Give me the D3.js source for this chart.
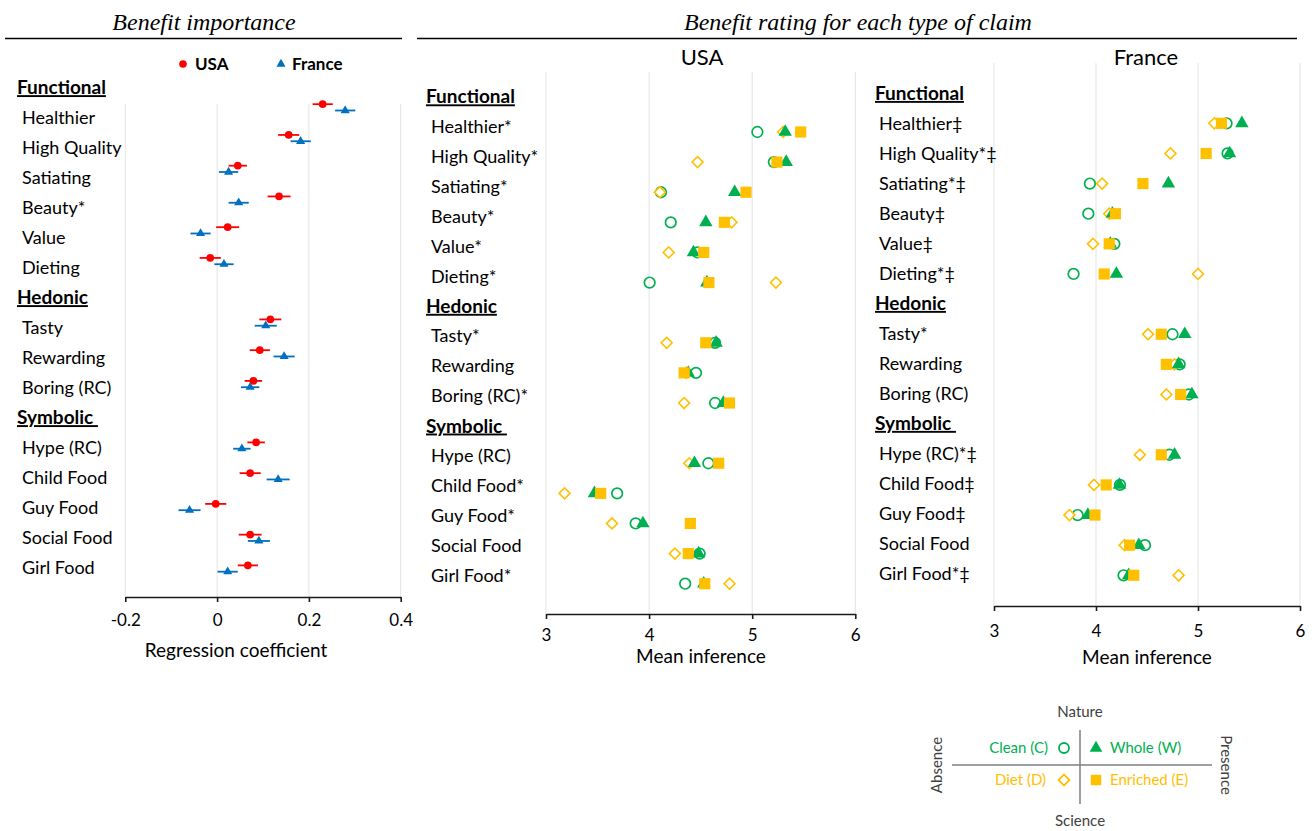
<!DOCTYPE html>
<html><head><meta charset="utf-8">
<script src="https://cdn.jsdelivr.net/npm/d3@7"></script>
<style>
body{margin:0;background:#fff;}
svg{display:block;}
text{font-family:Lato,"Noto Sans",sans-serif;}
</style></head>
<body>
<svg id="chart" width="1315" height="831"></svg>
<script>
// ---------------- DATA ----------------
const groups = ["Functional","Hedonic","Symbolic"];
const groupSizes = [6,3,5];
const items = ["Healthier","High Quality","Satiating","Beauty","Value","Dieting","Tasty","Rewarding","Boring (RC)","Hype (RC)","Child Food","Guy Food","Social Food","Girl Food"];
const suffixImportance = ["","","","*","","","","","","","","","",""];
const suffixUSA = ["*","*","*","*","*","*","*","","*","","*","*","","*"];
const suffixFrance = ["‡","*‡","*‡","‡","‡","*‡","*","","","*‡","‡","‡","","*‡"];

const importanceTicks = [-0.2,0,0.2,0.4];
const importanceTickLabels = ["-0.2","0","0.2","0.4"];
const importanceUSA   = [0.230,0.156,0.045,0.135,0.023,-0.015,0.116,0.093,0.079,0.085,0.072,-0.003,0.072,0.067];
const importanceUSAci = [0.022,0.023,0.020,0.025,0.025,0.023,0.024,0.022,0.019,0.019,0.023,0.023,0.025,0.022];
const importanceFR    = [0.279,0.182,0.025,0.047,-0.036,0.015,0.106,0.146,0.072,0.054,0.133,-0.060,0.091,0.023];
const importanceFRci  = [0.022,0.022,0.021,0.022,0.022,0.021,0.024,0.023,0.020,0.019,0.025,0.024,0.024,0.022];

const ratingTicks = [3,4,5,6];
const ratingTickLabels = ["3","4","5","6"];
const usaClean    = [5.05,5.21,4.115,4.21,4.47,4.005,4.64,4.455,4.64,4.575,3.69,3.87,4.49,4.35];
const usaDiet     = [5.30,4.47,4.105,4.80,4.19,5.23,4.17,4.36,4.34,4.39,3.18,3.64,4.25,4.78];
const usaWhole    = [5.32,5.33,4.83,4.55,4.43,4.56,4.65,4.38,4.72,4.44,3.47,3.94,4.48,4.53];
const usaEnriched = [5.47,5.24,4.94,4.73,4.53,4.58,4.55,4.34,4.78,4.675,3.53,4.40,4.38,4.54];

const frClean    = [5.28,5.29,3.94,3.925,4.18,3.78,4.75,4.82,4.91,4.72,4.235,3.82,4.48,4.27];
const frDiet     = [5.16,4.73,4.06,4.13,3.97,5.00,4.51,4.77,4.69,4.43,3.98,3.74,4.28,4.81];
const frWhole    = [5.43,5.31,4.71,4.16,4.14,4.20,4.87,4.81,4.94,4.77,4.23,3.92,4.42,4.32];
const frEnriched = [5.23,5.08,4.46,4.19,4.13,4.08,4.64,4.69,4.83,4.64,4.10,3.99,4.33,4.37];

const claimNames = ["Clean (C)","Whole (W)","Diet (D)","Enriched (E)"];

// ---------------- HELPERS ----------------
const RED="#FF0000", BLUE="#0070C0", GREEN="#00B050", GOLD="#FFC000";
const svg = d3.select("#chart");

const labelRows = []; const slotOf = [];
{
  let k=0, it=0, slot=0;
  groups.forEach((g,gi)=>{
    labelRows.push({text:g, header:true, row:k++});
    if(gi>0) slot++;
    for(let j=0;j<groupSizes[gi];j++){
      labelRows.push({item:it, header:false, row:k++});
      slotOf.push(slot++); it++;
    }
  });
}

function drawPanel(cfg){
  const g = svg.append("g");
  const x = d3.scaleLinear().domain(cfg.domain).range(cfg.xRange);
  const yPt = d3.scaleLinear().domain([0,15]).range(cfg.ptRange);
  const yLab = d3.scaleLinear().domain([0,16]).range(cfg.labRange);

  g.selectAll(".grid").data(cfg.ticks).join("line")
    .attr("x1",d=>x(d)).attr("x2",d=>x(d))
    .attr("y1",cfg.gridTop).attr("y2",cfg.axisY)
    .attr("stroke","#e3e3e3").attr("stroke-width",1);

  const ax = g.append("g").attr("transform",`translate(0,${cfg.axisY})`)
    .call(d3.axisBottom(x).tickValues(cfg.ticks).tickSize(5).tickSizeOuter(0)
      .tickFormat((d,i)=>cfg.tickLabels[i]));
  ax.select(".domain").attr("stroke","#1a1a1a").attr("stroke-width",1.6);
  ax.selectAll(".tick line").attr("stroke","#1a1a1a").attr("stroke-width",1.6);
  ax.selectAll(".tick text").attr("y",cfg.tickDy).attr("dy","0.35em")
    .style("font-family","Lato,sans-serif").style("font-size","17px").style("fill","#000");

  g.append("text").attr("x",cfg.titleX).attr("y",cfg.titleY).attr("dy","0.35em")
    .attr("text-anchor","middle").style("font-size","19px").style("fill","#000").text(cfg.axisTitle);

  g.selectAll(".lab").data(labelRows).join("text")
    .attr("x",d=>d.header?cfg.headerX:cfg.itemX)
    .attr("y",d=>yLab(d.row)).attr("dy","0.35em")
    .style("font-size",d=>d.header?"19px":"18px")
    .style("font-weight",d=>d.header?"700":"400")
    .style("text-decoration",d=>d.header?"underline":"none")
    .style("fill","#000")
    .text(d=>d.header?(d.text==="Symbolic"?"Symbolic\u00a0":d.text):items[d.item]+cfg.suffix[d.item]);

  return {g,x,yPt};
}

// ---------------- TITLES ----------------
svg.append("text").attr("x",204).attr("y",22).attr("dy","0.35em").attr("text-anchor","middle")
  .style("font-family","'Liberation Serif',serif").style("font-style","italic").style("font-size","24px")
  .text("Benefit importance");
svg.append("line").attr("x1",5).attr("x2",402).attr("y1",38.5).attr("y2",38.5).attr("stroke","#000").attr("stroke-width",1.3);
svg.append("text").attr("x",858).attr("y",22).attr("dy","0.35em").attr("text-anchor","middle")
  .style("font-family","'Liberation Serif',serif").style("font-style","italic").style("font-size","24px")
  .text("Benefit rating for each type of claim");
svg.append("line").attr("x1",417).attr("x2",1297).attr("y1",38.5).attr("y2",38.5).attr("stroke","#000").attr("stroke-width",1.3);

// ---------------- PANEL 1: importance ----------------
{
  const p = drawPanel({domain:[-0.2,0.4], xRange:[125.3,400.7], ticks:importanceTicks,
    tickLabels:importanceTickLabels, ptRange:[107.3,568.5], labRange:[87.5,567.5],
    gridTop:104, axisY:597, tickDy:23, titleX:236, titleY:650, axisTitle:"Regression coefficient",
    headerX:17, itemX:22, suffix:suffixImportance});
  const series = [
    {v:importanceUSA, ci:importanceUSAci, c:RED, off:-3.1, sym:d3.symbolCircle, size:46},
    {v:importanceFR, ci:importanceFRci, c:BLUE, off:3.2, sym:d3.symbolTriangle, size:36}
  ];
  series.forEach(s=>{
    p.g.selectAll(null).data(s.v).join("line")
      .attr("x1",(d,i)=>p.x(d-s.ci[i])).attr("x2",(d,i)=>p.x(d+s.ci[i]))
      .attr("y1",(d,i)=>p.yPt(slotOf[i])+s.off).attr("y2",(d,i)=>p.yPt(slotOf[i])+s.off)
      .attr("stroke",s.c).attr("stroke-width",1.8);
    p.g.selectAll(null).data(s.v).join("path")
      .attr("d",d3.symbol().type(s.sym).size(s.size))
      .attr("transform",(d,i)=>`translate(${p.x(d)},${p.yPt(slotOf[i])+s.off})`)
      .attr("fill",s.c);
  });
  svg.append("path").attr("d",d3.symbol().type(d3.symbolCircle).size(46)).attr("transform","translate(183,64)").attr("fill",RED);
  svg.append("text").attr("x",195).attr("y",64).attr("dy","0.35em").style("font-weight","700").style("font-size","17px").style("fill","#000").text("USA");
  svg.append("path").attr("d",d3.symbol().type(d3.symbolTriangle).size(36)).attr("transform","translate(281,64)").attr("fill",BLUE);
  svg.append("text").attr("x",292).attr("y",64).attr("dy","0.35em").style("font-weight","700").style("font-size","17px").style("fill","#000").text("France");
}

// ---------------- PANELS 2 & 3: ratings ----------------
function drawClaims(p, C, D, W, E){
  const row=(i)=>p.yPt(slotOf[i]);
  p.g.selectAll(null).data(C).join("circle")
    .attr("cx",d=>p.x(d)).attr("cy",(d,i)=>row(i)).attr("r",5.3)
    .attr("fill","none").attr("stroke",GREEN).attr("stroke-width",1.7);
  p.g.selectAll(null).data(D).join("path")
    .attr("d",d3.symbol().type(d3.symbolSquare).size(60))
    .attr("transform",(d,i)=>`translate(${p.x(d)},${row(i)}) rotate(45)`)
    .attr("fill","#fff").attr("stroke",GOLD).attr("stroke-width",1.6);
  p.g.selectAll(null).data(W).join("path")
    .attr("d",d3.symbol().type(d3.symbolTriangle).size(78))
    .attr("transform",(d,i)=>`translate(${p.x(d)},${row(i)})`)
    .attr("fill",GREEN);
  p.g.selectAll(null).data(E).join("path")
    .attr("d",d3.symbol().type(d3.symbolSquare).size(125))
    .attr("transform",(d,i)=>`translate(${p.x(d)},${row(i)})`)
    .attr("fill",GOLD);
}
{
  const p = drawPanel({domain:[3,6], xRange:[546,855.3], ticks:ratingTicks, tickLabels:ratingTickLabels,
    ptRange:[132,583.7], labRange:[96.7,575.5], gridTop:72, axisY:614, tickDy:21,
    titleX:701, titleY:656, axisTitle:"Mean inference", headerX:426, itemX:431, suffix:suffixUSA});
  svg.append("text").attr("x",702).attr("y",57).attr("dy","0.35em").attr("text-anchor","middle").style("font-size","22px").style("fill","#000").text("USA");
  drawClaims(p, usaClean, usaDiet, usaWhole, usaEnriched);
}
{
  const p = drawPanel({domain:[3,6], xRange:[994,1300], ticks:ratingTicks, tickLabels:ratingTickLabels,
    ptRange:[123.3,575.3], labRange:[93.3,573.2], gridTop:63, axisY:606, tickDy:25,
    titleX:1147, titleY:657, axisTitle:"Mean inference", headerX:875, itemX:879, suffix:suffixFrance});
  svg.append("text").attr("x",1146).attr("y",57).attr("dy","0.35em").attr("text-anchor","middle").style("font-size","22px").style("fill","#000").text("France");
  drawClaims(p, frClean, frDiet, frWhole, frEnriched);
}

// ---------------- CLAIM LEGEND ----------------
{
  const lg = svg.append("g");
  const cx=1080, cy=765;
  lg.append("line").attr("x1",cx).attr("x2",cx).attr("y1",730).attr("y2",804).attr("stroke","#7f7f7f").attr("stroke-width",1.5);
  lg.append("line").attr("x1",952).attr("x2",1212).attr("y1",cy).attr("y2",cy).attr("stroke","#7f7f7f").attr("stroke-width",1.5);
  const t=(x,y,s,anchor,fill,rot)=>{
    const e=lg.append("text").attr("x",x).attr("y",y).attr("dy","0.35em").attr("text-anchor",anchor)
      .style("font-size","15px").style("fill",fill).text(s);
    if(rot) e.attr("transform",`rotate(${rot},${x},${y})`);
  };
  t(cx,712,"Nature","middle","#404040");
  t(cx,821,"Science","middle","#404040");
  t(937,cy,"Absence","middle","#404040",-90);
  t(1226,cy,"Presence","middle","#404040",90);
  t(1048,748,claimNames[0],"end",GREEN);
  t(1110,748,claimNames[1],"start",GREEN);
  t(1046,780,claimNames[2],"end",GOLD);
  t(1110,780,claimNames[3],"start",GOLD);
  lg.append("circle").attr("cx",1064).attr("cy",748).attr("r",5).attr("fill","none").attr("stroke",GREEN).attr("stroke-width",1.8);
  lg.append("path").attr("d",d3.symbol().type(d3.symbolTriangle).size(70)).attr("transform","translate(1096,748)").attr("fill",GREEN);
  lg.append("path").attr("d",d3.symbol().type(d3.symbolSquare).size(60)).attr("transform","translate(1064,780) rotate(45)").attr("fill","#fff").attr("stroke",GOLD).attr("stroke-width",1.8);
  lg.append("path").attr("d",d3.symbol().type(d3.symbolSquare).size(110)).attr("transform","translate(1096,780)").attr("fill",GOLD);
}
</script>
</body></html>
